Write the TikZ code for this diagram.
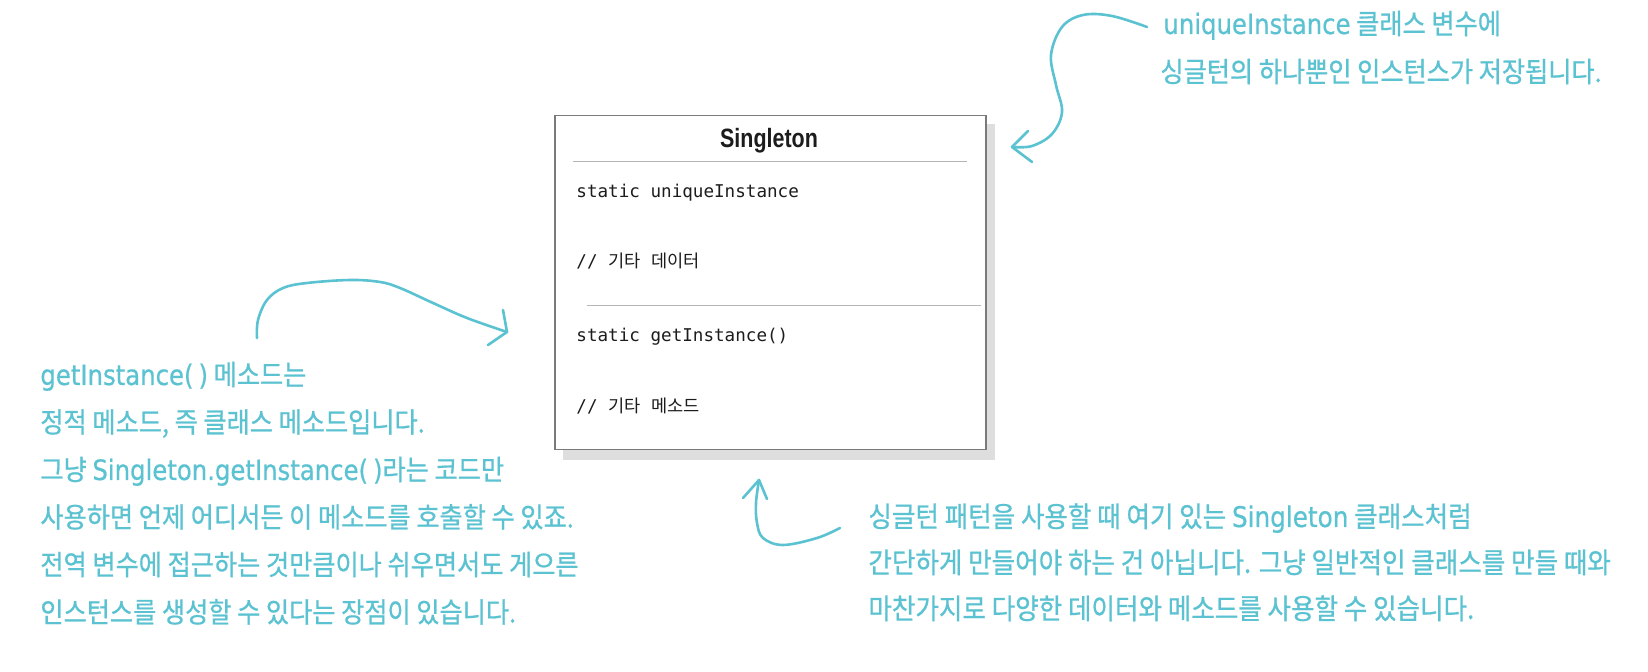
\documentclass[tikz,border=0pt]{standalone}
\usepackage{fontspec}
\setmainfont{Liberation Sans}
\newfontfamily\hand{Noto Sans CJK KR}[FakeStretch=0.9,FakeBold=0.7]
\newfontfamily\hlat{DejaVu Sans}[FakeStretch=0.87,FakeBold=0.5]
\newfontfamily\kr{Noto Sans CJK KR}
\newfontfamily\mono{DejaVu Sans Mono}
\newfontfamily\ttl{Liberation Sans}[FakeStretch=0.81]
\definecolor{tealc}{HTML}{5BC2D2}
\definecolor{boxtext}{HTML}{1C1C1C}
\definecolor{boxline}{HTML}{7A7A7A}
\definecolor{sepline}{HTML}{B4B4B4}
\definecolor{shadowc}{HTML}{DEDEDE}
\tikzset{
  hw/.style={anchor=base west, inner sep=0pt, text=tealc, font=\hand\fontsize{14}{16}\selectfont},
  hwb/.style={hw, font=\hand\fontsize{14.2}{16}\selectfont},
  mt/.style={anchor=base west, inner sep=0pt, text=boxtext, font=\mono\fontsize{8.8}{10}\selectfont},
  arr/.style={draw=tealc, line width=1.3pt, line cap=round, line join=round},
  sep/.style={draw=sepline, line width=0.5pt},
}
\begin{document}
\begin{tikzpicture}[x=0.5pt,y=-0.5pt]
\path[use as bounding box, fill=white] (0,0) rectangle (1648,672);

% class box
\fill[shadowc] (563,124) rectangle (995,460);
\node[draw=boxline, fill=white, line width=0.75pt, anchor=north west, inner sep=0pt,
      minimum width=215.5pt, minimum height=167pt] (box) at (554,115) {};
\node[anchor=base, inner sep=0pt, text=boxtext, font=\ttl\bfseries\fontsize{13.25}{15}\selectfont] (title) at (769,148) {Singleton};
\draw[sep] (573,162) -- (967,162);
\draw[sep] (587,306) -- (981,306);
\node[mt] (m1) at (576,198) {static uniqueInstance};
\node[mt] (m2) at (576,268) {//\ {\kr 기타}\ {\kr 데이터}};
\node[mt] (m3) at (576,342) {static getInstance()};
\node[mt] (m4) at (576,413) {//\ {\kr 기타}\ {\kr 메소드}};

% top-right note
\node[hw] (t1a) at (1163,34) {{\hlat uniqueInstance} 클래스 변수에};
\node[hw] (t1b) at (1160,82) {싱글턴의 하나뿐인 인스턴스가 저장됩니다.};

% left note
\node[hw] (t2a) at (40,385) {{\hlat getInstance(\hspace{2.5pt})} 메소드는};
\node[hw] (t2b) at (40,432.5) {정적 메소드, 즉 클래스 메소드입니다.};
\node[hw] (t2c) at (40,480) {그냥 {\hlat Singleton.getInstance(\hspace{2.5pt})}라는 코드만};
\node[hw] (t2d) at (40,527.5) {사용하면 언제 어디서든 이 메소드를 호출할 수 있죠.};
\node[hw] (t2e) at (40,575) {전역 변수에 접근하는 것만큼이나 쉬우면서도 게으른};
\node[hw] (t2f) at (40,622.5) {인스턴스를 생성할 수 있다는 장점이 있습니다.};

% bottom-right note
\node[hwb] (t3a) at (868,527) {싱글턴 패턴을 사용할 때 여기 있는 {\hlat Singleton} 클래스처럼};
\node[hwb] (t3b) at (868,573) {간단하게 만들어야 하는 건 아닙니다. 그냥 일반적인 클래스를 만들 때와};
\node[hwb] (t3c) at (868,619) {마찬가지로 다양한 데이터와 메소드를 사용할 수 있습니다.};

% arrows
\coordinate (a1s) at (1147,27);
\coordinate (a1t) at (1012,147);
\draw[arr] plot[smooth, tension=0.6] coordinates {(a1s) (1112,16) (1083,15) (1062,27) (1051,55) (1056,85) (1062,112) (1052,134) (1032,146) (a1t)};
\draw[arr] (1028,131) -- (a1t) -- (1032,162);

\coordinate (a2s) at (257,338);
\coordinate (a2t) at (507,332);
\draw[arr] plot[smooth, tension=0.6] coordinates {(a2s) (258,320) (267,300) (283,288) (307,283) (350,280) (380,282) (400,288) (433,303) (467,318) (a2t)};
\draw[arr] (503,310) -- (a2t) -- (488,345);

\coordinate (a3s) at (840,528);
\coordinate (a3t) at (759,480);
\draw[arr] plot[smooth, tension=0.6] coordinates {(a3s) (817,538) (783,545) (763,538) (757,523) (756,503) (a3t)};
\draw[arr] (743,498) -- (a3t) -- (767,499);
\end{tikzpicture}
\end{document}
